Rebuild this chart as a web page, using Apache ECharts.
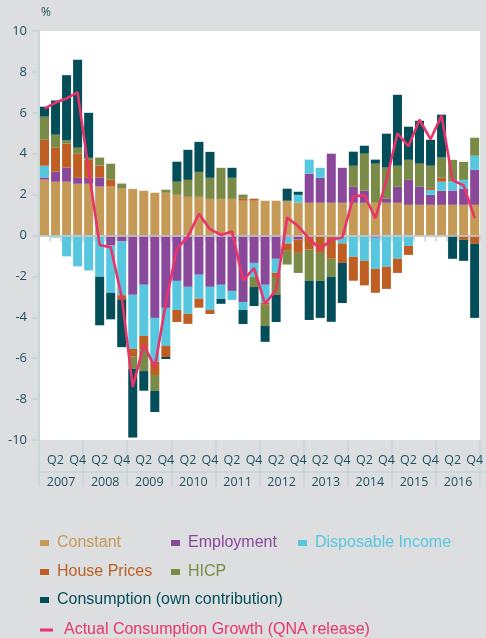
<!DOCTYPE html>
<html>
<head>
<meta charset="utf-8">
<script src="https://cdn.jsdelivr.net/npm/echarts@6/dist/echarts.min.js"></script>
<style>
  html, body { margin: 0; padding: 0; background: #dcdee0; }
  #chart { width: 486px; height: 638px; }
</style>
</head>
<body>
<div id="chart"></div>
<script>
// quarters 2007Q1 .. 2016Q4
const years = ['2007', '2008', '2009', '2010', '2011', '2012', '2013', '2014', '2015', '2016'];
const quarters = [];
years.forEach(y => ['Q1', 'Q2', 'Q3', 'Q4'].forEach(q => quarters.push(y + q)));

const constant = [2.73, 2.63, 2.63, 2.53, 2.53, 2.39, 2.39, 2.29, 2.28, 2.19, 2.09, 2.09,
  1.99, 1.89, 1.89, 1.79, 1.79, 1.79, 1.70, 1.70, 1.70, 1.70, 1.70, 1.60,
  1.60, 1.60, 1.60, 1.60, 1.60, 1.60, 1.60, 1.60, 1.60, 1.50, 1.50, 1.50,
  1.50, 1.50, 1.50, 1.50];
const employment = [0.11, 0.49, 0.69, 0.29, 0.29, 0.44, -0.49, -0.29, -2.90, -2.41, -4.03, -3.54,
  -2.22, -2.51, -1.92, -2.51, -2.41, -2.71, -3.25, -1.34, -2.41, -1.14, -0.10, -0.20,
  1.42, 1.22, 2.40, 1.71, 0.78, 0.59, -0.11, 0.20, 0.78, 1.22, 0.88, 0.49,
  0.69, 0.70, 0.78, 1.71];
const income = [0.57, -0.10, -1.02, -1.51, -1.71, -2.02, -2.31, -2.63, -2.64, -2.50, -2.15, -1.86,
  -1.42, -1.32, -1.17, -1.13, -0.69, -0.44, -0.39, -0.69, -0.88, -0.69, -0.29, 0.39,
  0.69, 0.49, 0, -0.39, -1.04, -1.24, -1.52, -1.53, -1.14, -0.51, 0, 0.24,
  0.44, 0.44, 0.44, 0.69];
const housePrices = [1.27, 1.19, 1.18, 1.18, 0.88, 0.59, 0.34, -0.20, -0.39, -0.64, -0.64, -0.54,
  -0.59, -0.49, -0.44, -0.20, 0, 0, 0.10, 0.10, -0.10, -0.20, -0.36, -0.65,
  -0.69, -0.85, -1.14, -0.95, -1.17, -1.20, -1.17, -1.08, -0.69, -0.44, 0, 0.10,
  0.20, 0, -0.21, -0.41];
const hicp = [1.13, 0.62, 0.15, 0.29, 0.10, 0.39, 0.78, 0.25, -0.59, -1.08, -0.78, 0.15,
  0.64, 0.83, 1.22, 1.03, 1.52, 1.03, 0.20, -0.49, -1.03, -0.88, -0.67, -0.98,
  -1.53, -1.37, -0.88, 0, 1.03, 1.81, 1.91, 1.52, 1.03, 0.98, 1.13, 1.08,
  0.98, 1.06, 0.88, 0.88];
const consumption = [0.49, 1.67, 3.19, 4.31, 2.20, -2.37, -1.30, -2.34, -3.36, -0.96, -1.03, -0.10,
  0.98, 1.47, 1.47, 1.27, -0.24, 0.49, -0.69, -0.93, -0.78, -1.32, 0.59, 0.15,
  -1.91, -1.81, -2.20, -1.96, 0.69, 0.39, 0.20, 1.66, 3.47, 1.62, 2.10, 1.27,
  2.10, -1.14, -1.03, -3.62];
const actual = [6.2, 6.5, 6.7, 7.0, 3.2, -0.46, -0.57, -3.0, -7.4, -5.35, -6.44, -3.3,
  -0.65, -0.05, 1.06, 0.31, 0.03, 0.2, -2.2, -1.6, -3.34, -2.66, 0.88, 0.45,
  -0.15, -0.67, -0.2, -0.1, 1.9, 1.98, 0.85, 2.7, 5.0, 4.36, 5.66, 4.71,
  5.86, 2.7, 2.45, 0.85];

const axisColor = '#c6d5da';
const labelColor = '#1d5262';
const font = 'Open Sans';
const legendFont = 'Liberation Sans';

const stacks = [
  { name: 'Constant', data: constant, color: '#c49a56' },
  { name: 'Employment', data: employment, color: '#8a489b' },
  { name: 'Disposable Income', data: income, color: '#57c7e0' },
  { name: 'House Prices', data: housePrices, color: '#be5e22' },
  { name: 'HICP', data: hicp, color: '#7a8a47' },
  { name: 'Consumption (own contribution)', data: consumption, color: '#044e5a' }
];
const lineColor = '#e8336b';

const series = stacks.map(s => ({
  name: s.name,
  type: 'bar',
  stack: 'total',
  barWidth: 9,
  data: s.data,
  itemStyle: { color: s.color },
  xAxisIndex: 0,
  yAxisIndex: 0
}));
series[0].markLine = {
  silent: true,
  symbol: 'none',
  z: 3,
  label: { show: false },
  lineStyle: { color: '#c9cccf', width: 1.5, type: 'solid' },
  data: [{ yAxis: 0 }]
};
series.push({
  name: 'Actual Consumption Growth (QNA release)',
  type: 'line',
  data: actual,
  symbol: 'none',
  z: 4,
  lineStyle: { color: lineColor, width: 2.6 },
  itemStyle: { color: lineColor }
});

// one legend per item so each can sit where the reference has it
const legendPlaces = [
  ['Constant', 40, 535, stacks[0].color],
  ['Employment', 171, 535, stacks[1].color],
  ['Disposable Income', 298, 535, stacks[2].color],
  ['House Prices', 40, 564, stacks[3].color],
  ['HICP', 171, 564, stacks[4].color],
  ['Consumption (own contribution)', 40, 592, stacks[5].color]
];
const legends = legendPlaces.map(p => ({
  data: [p[0]],
  left: p[1],
  top: p[2],
  padding: 0,
  icon: 'rect',
  itemWidth: 9,
  itemHeight: 6,
  selectedMode: false,
  textStyle: { color: p[3], fontSize: 16, fontFamily: legendFont, padding: [0, 0, 0, 3] }
}));
legends.push({
  data: ['Actual Consumption Growth (QNA release)'],
  left: 40,
  top: 622,
  padding: 0,
  icon: 'rect',
  itemWidth: 13,
  itemHeight: 3,
  selectedMode: false,
  textStyle: { color: lineColor, fontSize: 16, fontFamily: legendFont, padding: [0, 0, 0, 6] }
});

const chart = echarts.init(document.getElementById('chart'));
chart.setOption({
  backgroundColor: '#dcdee0',
  animation: false,
  grid: {
    left: 39, top: 31, width: 448, height: 409,
    show: true, backgroundColor: '#ffffff', borderWidth: 0
  },
  legend: legends,
  xAxis: [
    {
      type: 'category',
      data: quarters,
      position: 'bottom',
      axisLine: { show: true, lineStyle: { color: axisColor, width: 2 } },
      axisTick: { show: true, interval: 0, length: 6, lineStyle: { color: axisColor, width: 1.5 } },
      axisLabel: {
        interval: 0,
        margin: 14,
        color: labelColor,
        fontSize: 12.5,
        fontFamily: font,
        formatter: (v, i) => (i % 4 === 1 ? 'Q2' : i % 4 === 3 ? 'Q4' : '')
      },
      splitLine: { show: false }
    },
    {
      type: 'category',
      data: years,
      position: 'bottom',
      axisLine: { show: false },
      axisTick: { show: true, interval: 0, length: 47, lineStyle: { color: axisColor, width: 1.5 } },
      axisLabel: { interval: 0, margin: 36, color: labelColor, fontSize: 12.5, fontFamily: font },
      splitLine: { show: false }
    }
  ],
  yAxis: {
    type: 'value',
    min: -10,
    max: 10,
    interval: 2,
    axisLine: { show: true, lineStyle: { color: axisColor, width: 2 } },
    axisTick: { show: true, length: 7, lineStyle: { color: axisColor, width: 1.5 } },
    axisLabel: { margin: 12, color: labelColor, fontSize: 13, fontFamily: font },
    splitLine: { show: false }
  },
  graphic: [
    {
      type: 'text', left: 41, top: 7,
      style: { text: '%', fill: labelColor, font: '12px "Open Sans"' }
    },
    {
      type: 'line', silent: true,
      shape: { x1: 39, y1: 472, x2: 486, y2: 472 },
      style: { stroke: axisColor, lineWidth: 1.5 }
    }
  ],
  series: series
});
</script>
</body>
</html>
